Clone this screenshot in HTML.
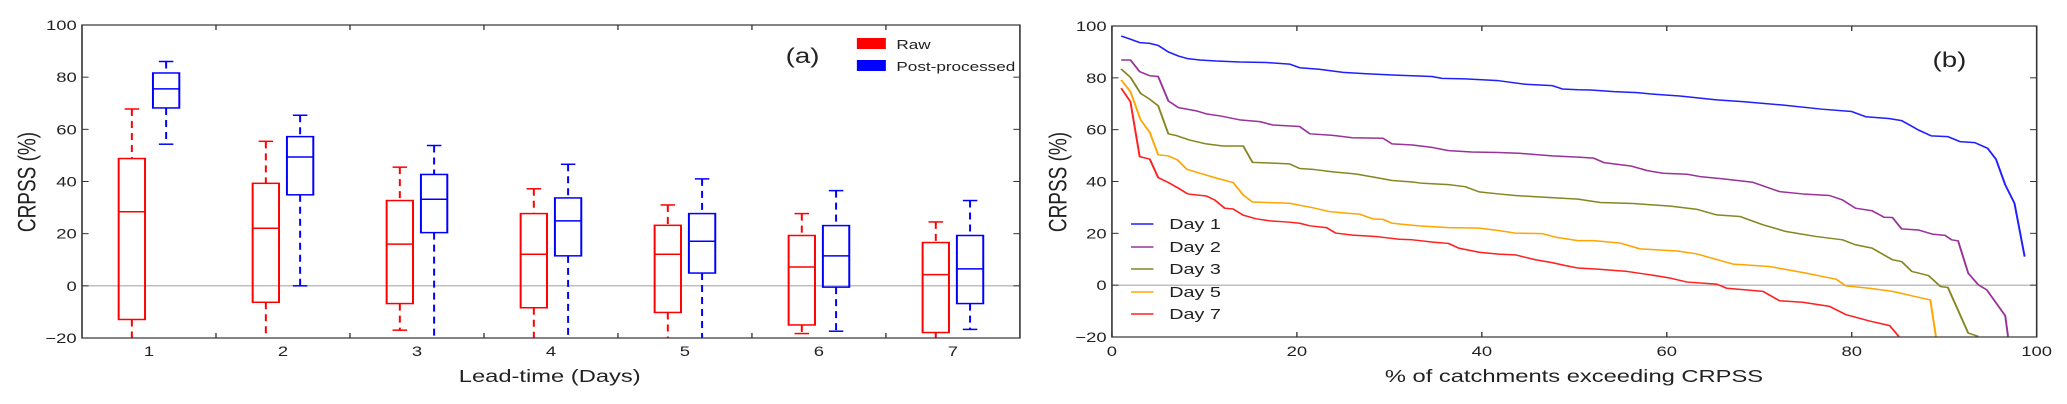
<!DOCTYPE html>
<html><head><meta charset="utf-8"><style>
html,body{margin:0;padding:0;background:#fff;}
svg{display:block;}
text{font-family:"Liberation Sans","DejaVu Sans",sans-serif;fill:#222;}
</style></head><body>
<svg id="fig" width="2067" height="404" viewBox="0 0 1568 404" preserveAspectRatio="none" xmlns="http://www.w3.org/2000/svg">
<defs>
<clipPath id="clipA"><rect x="62.2" y="25" width="711.5" height="313"/></clipPath>
<clipPath id="clipB"><rect x="843.5" y="26" width="701.5" height="311"/></clipPath>
</defs>
<g id="panelA"></g>
<g id="panelB"></g>
</svg>
<script>
// ---------- Panel (a) data ----------
const leadDays = [1,2,3,4,5,6,7];
const rawWhiskerHigh = [67.8,55.4,45.5,37.2,31,27.7,24.5];
const rawQ3 = [48.8,39.3,32.7,27.7,23.2,19.3,16.6];
const rawMedian = [28.4,22.1,16,12.1,12.1,7.2,4.3];
const rawQ1 = [-12.9,-6.3,-6.8,-8.4,-10.2,-15,-17.9];
const rawWhiskerLow = [-22,-22,-17,-22,-22,-18.3,-22];
const postWhiskerHigh = [86,65.4,53.8,46.6,41,36.5,32.7];
const postQ3 = [81.6,57.2,42.7,33.7,27.7,23.1,19.3];
const postMedian = [75.5,49.4,33.2,24.9,17.1,11.5,6.5];
const postQ1 = [68.2,34.9,20.4,11.5,4.9,-0.5,-6.8];
const postWhiskerLow = [54.3,0,-22,-22,-22,-17.4,-16.7];
const yTicksA = [-20,0,20,40,60,80,100];

// ---------- Panel (b) data ----------
const yTicksB = [-20,0,20,40,60,80,100];
const xTicksB = [0,20,40,60,80,100];
const seriesNames = ["Day 1","Day 2","Day 3","Day 5","Day 7"];
const seriesColors = ["#1f1fff","#993399","#868622","#ffa500","#ff2020"];
const day1X = [1,2,3,4.1,5,6.1,7.2,8.2,9.5,11.3,13.8,16.7,19.2,20.3,22.4,25,27.5,31,34.6,35.7,38.2,41.8,44.7,47.6,48.7,50.4,51.8,54.3,56.8,58.2,61.4,65.4,68.2,72.5,76.8,80,81.5,84,85.4,87.2,88.6,90.4,91.7,93.3,94.7,95.6,96.6,97.6,98.7];
const day1Y = [96.1,94.9,93.6,93.3,92.5,90,88.4,87.4,86.9,86.5,86.1,85.9,85.3,83.9,83.3,82.1,81.6,81,80.5,79.8,79.6,78.9,77.5,77,75.7,75.4,75.3,74.7,74.3,73.8,73,71.5,70.8,69.5,67.9,67,65,64.3,63.5,59.9,57.6,57.3,55.4,55,52.8,48.6,38.7,31.6,11];
const day2X = [1,2,3,4.1,5,6.1,7.2,9.2,10.2,11.7,13.8,16,17.4,20.3,21.4,23.9,26,29.3,30.3,32.5,34.7,36.4,38.9,41.8,44,47.6,50.4,52.1,53.2,56.1,57.9,59.6,62.2,63.6,66.1,69.3,72.2,74.7,77.6,79,80.4,82.2,83.5,84.4,85.4,87.2,88.7,90.1,90.8,91.5,92.6,93.7,94.6,96.6,96.9];
const day2Y = [86.9,86.9,82.4,80.8,80.5,71.1,68.5,67.2,66.1,65.3,63.8,63.1,61.8,61.2,58.4,57.8,56.9,56.7,54.5,54.1,53.1,51.9,51.4,51.2,50.9,49.9,49.4,49,47.3,46,44.2,43.2,42.8,41.9,41,39.7,36.1,35.2,34.6,32.9,29.7,28.7,26.2,26.1,21.7,21.3,19.7,19.2,17.5,17.1,4.6,0.1,-1.8,-11.8,-19.8];
const day3X = [1,2,3.1,4.1,5,6.1,7,8.4,10.2,12,14.2,15.2,16.7,19.2,20.3,21.7,23.9,26.4,28.9,30.3,32.5,33.6,36.4,38.2,39.7,41.8,43.6,45.4,50.4,52.8,56.4,60.4,63.2,65.4,67.9,70.4,72.9,76.1,79,80.4,82.2,84.4,85.4,86.5,88.3,89.6,90.4,92.6,93.7];
const day3Y = [83.4,80.2,74,71.7,69.2,58.4,57.7,56,54.5,53.7,53.7,47.4,47.2,46.8,45,44.7,43.7,42.9,41.3,40.4,39.8,39.3,38.8,38,36,35.2,34.6,34.2,33.2,31.9,31.5,30.5,29.3,27.1,26.5,23.3,20.7,18.8,17.5,15.6,14.3,9.8,9.1,5.3,3.7,-0.5,-0.9,-18.5,-19.8];
const day5X = [1,2,3.1,4.1,5,6.1,7.1,8.1,9.5,11.3,13.1,14.2,15.2,19.2,21.7,23.5,25.3,26.8,28.2,29.3,30.3,33.2,36.4,39.7,41.8,43.6,46.5,48,50.4,52.1,55,57.1,61.1,63.2,67.2,71.1,74.7,78.3,79.4,81.9,84.4,86.5,88.5,89.1];
const day5Y = [79.2,74.7,63.8,58.9,50.3,49.9,48.3,44.7,43.2,41.3,39.6,34.8,32.1,31.6,29.9,28.4,27.8,27.4,25.6,25.4,23.9,22.9,22.2,22,21.1,20.1,19.9,18.5,17.2,17.2,16.2,14,13.2,12.1,8.1,7.2,4.9,2.3,-0.3,-1.2,-2.4,-4.1,-5.7,-19.8];
const day7X = [1,2,3,4.1,5,6.1,7.2,8.2,10.2,11.1,12.2,13.1,14.2,15.6,17.1,19.2,20.3,21.4,23.2,24.2,26,28.5,31.1,32.5,34.7,36.4,37.5,39.7,41.8,43.6,45.8,47.6,49,50.4,52.5,55.7,58.2,60.4,62.2,65.4,66.5,70.4,72.2,74.7,77.6,79.4,81.9,84.1,85.1];
const day7Y = [76,70.8,49.6,48.6,41.5,39.6,37.4,35.2,34.4,32.9,29.7,29.4,27,25.6,24.8,24.3,23.9,22.9,22.2,20.1,19.3,18.8,17.7,17.5,16.6,16.1,14.3,12.7,12,11.7,9.8,8.7,7.6,6.6,6.2,5.3,4,2.7,1.2,0.4,-1.2,-2.4,-6,-6.6,-8.2,-11.4,-13.8,-15.6,-19.8];
const seriesX = [day1X,day2X,day3X,day5X,day7X];
const seriesY = [day1Y,day2Y,day3Y,day5Y,day7Y];

const NS = "http://www.w3.org/2000/svg";
function mk(tag, attrs, parent){const e=document.createElementNS(NS,tag);for(const k in attrs)e.setAttribute(k,attrs[k]);parent.appendChild(e);return e;}

// ---------- Panel A ----------
const A = {x0:62.2,x1:773.7,y0:25,y1:338};
const ax = v => A.x0 + (v-0.5)/7*(A.x1-A.x0);
const ay = v => A.y1 - (v+20)/120*(A.y1-A.y0);
const gA = document.getElementById('panelA');
let zA = mk('line',{x1:A.x0,x2:A.x1,y1:ay(0),y2:ay(0),stroke:'#aaa','stroke-width':1.2},gA);


const boxesA = mk('g',{'clip-path':'url(#clipA)'},gA);
function drawBox(i, off, color, hi, q3, med, q1, lo, kind){
  const cx = ax(leadDays[i]) + off, hw = 10, cw = 5.5;
  const g = mk('g',{},boxesA);
  
  
  const st = {stroke:color,'stroke-width':1.5,fill:'none'};
  mk('line',Object.assign({x1:cx,x2:cx,y1:ay(hi),y2:ay(q3),'stroke-dasharray':'7,5'},st),g);
  mk('line',Object.assign({x1:cx,x2:cx,y1:ay(q1),y2:ay(lo),'stroke-dasharray':'7,5'},st),g);
  mk('line',Object.assign({x1:cx-cw,x2:cx+cw,y1:ay(hi),y2:ay(hi)},st),g);
  mk('line',Object.assign({x1:cx-cw,x2:cx+cw,y1:ay(lo),y2:ay(lo)},st),g);
  mk('rect',Object.assign({x:cx-hw,y:ay(q3),width:2*hw,height:ay(q1)-ay(q3)},st),g);
  mk('line',Object.assign({x1:cx-hw,x2:cx+hw,y1:ay(med),y2:ay(med)},st),g);
}
for(let i=0;i<leadDays.length;i++){
  drawBox(i,-13,'#ff0000',rawWhiskerHigh[i],rawQ3[i],rawMedian[i],rawQ1[i],rawWhiskerLow[i],'raw');
  drawBox(i,13,'#0000ff',postWhiskerHigh[i],postQ3[i],postMedian[i],postQ1[i],postWhiskerLow[i],'post');
}
let frA = mk('rect',{x:A.x0,y:A.y0,width:A.x1-A.x0,height:A.y1-A.y0,fill:'none',stroke:'#333','stroke-width':1.2},gA);


yTicksA.forEach(v=>{
  const y=ay(v);
  mk('line',{x1:A.x0,x2:A.x0+5,y1:y,y2:y,stroke:'#333'},gA);
  mk('line',{x1:A.x1,x2:A.x1-5,y1:y,y2:y,stroke:'#333'},gA);
  const t=mk('text',{x:A.x0-4,y:y+5,'text-anchor':'end','font-size':14},gA);
  t.textContent = v<0 ? '\u2212'+(-v) : String(v);
  
  
});
for(let k=1;k<7;k++){
  const x=ax(k+0.5);
  mk('line',{x1:x,x2:x,y1:A.y1,y2:A.y1-5,stroke:'#333'},gA);
  mk('line',{x1:x,x2:x,y1:A.y0,y2:A.y0+5,stroke:'#333'},gA);
}
leadDays.forEach(d=>{
  const t=mk('text',{x:ax(d),y:356,'text-anchor':'middle','font-size':14},gA);
  t.textContent=String(d);
  
  
});
let xlA=mk('text',{x:417,y:382,'text-anchor':'middle','font-size':18},gA);xlA.textContent='Lead-time (Days)';


let ylA=mk('text',{x:0,y:0,'text-anchor':'middle','font-size':19,transform:'translate(27,182) rotate(-90)'},gA);ylA.textContent='CRPSS (%)';


let pa=mk('text',{x:596,y:63,'font-size':21},gA);pa.textContent='(a)';


const legA=mk('g',{},gA);


let r1=mk('rect',{x:650,y:38,width:22,height:11,fill:'#ff0000'},legA);


let r2=mk('rect',{x:650,y:60,width:22,height:11,fill:'#0000ff'},legA);


let l1=mk('text',{x:680,y:49,'font-size':13},legA);l1.textContent='Raw';


let l2=mk('text',{x:680,y:71,'font-size':13},legA);l2.textContent='Post-processed';



// ---------- Panel B ----------
const B = {x0:843.5,x1:1545,y0:26,y1:337};
const bx = v => B.x0 + v/100*(B.x1-B.x0);
const by = v => B.y1 - (v+20)/120*(B.y1-B.y0);
const gB = document.getElementById('panelB');
let zB = mk('line',{x1:B.x0,x2:B.x1,y1:by(0),y2:by(0),stroke:'#aaa','stroke-width':1.2},gB);


const linesB = mk('g',{'clip-path':'url(#clipB)'},gB);
seriesNames.forEach((n,i)=>{
  const pts = seriesX[i].map((x,j)=>bx(x).toFixed(2)+','+by(seriesY[i][j]).toFixed(2)).join(' ');
  const pl = mk('polyline',{points:pts,fill:'none',stroke:seriesColors[i],'stroke-width':1.5,'stroke-linejoin':'round'},linesB);
  
  
});
let frB = mk('rect',{x:B.x0,y:B.y0,width:B.x1-B.x0,height:B.y1-B.y0,fill:'none',stroke:'#333','stroke-width':1.2},gB);


yTicksB.forEach(v=>{
  const y=by(v);
  mk('line',{x1:B.x0,x2:B.x0+5,y1:y,y2:y,stroke:'#333'},gB);
  mk('line',{x1:B.x1,x2:B.x1-5,y1:y,y2:y,stroke:'#333'},gB);
  const t=mk('text',{x:B.x0-4,y:y+5,'text-anchor':'end','font-size':14},gB);
  t.textContent = v<0 ? '\u2212'+(-v) : String(v);
  
  
});
xTicksB.forEach(v=>{
  const x=bx(v);
  mk('line',{x1:x,x2:x,y1:B.y1,y2:B.y1-5,stroke:'#333'},gB);
  mk('line',{x1:x,x2:x,y1:B.y0,y2:B.y0+5,stroke:'#333'},gB);
  const t=mk('text',{x:x,y:356,'text-anchor':'middle','font-size':14},gB);
  t.textContent=String(v);
  
  
});
let xlB=mk('text',{x:1194,y:382,'text-anchor':'middle','font-size':18},gB);xlB.textContent='% of catchments exceeding CRPSS';


let ylB=mk('text',{x:0,y:0,'text-anchor':'middle','font-size':19,transform:'translate(809,182) rotate(-90)'},gB);ylB.textContent='CRPSS (%)';


let pb=mk('text',{x:1466,y:67,'font-size':21},gB);pb.textContent='(b)';


const legB=mk('g',{},gB);


const legYs=[224,247,269,292,314];
seriesNames.forEach((n,i)=>{
  const ln=mk('line',{x1:858,x2:875,y1:legYs[i],y2:legYs[i],stroke:seriesColors[i],'stroke-width':1.5},legB);
  
  
  const t=mk('text',{x:887,y:legYs[i]+5,'font-size':15},legB);
  t.textContent=n;
  
  
});
</script>
</body></html>
